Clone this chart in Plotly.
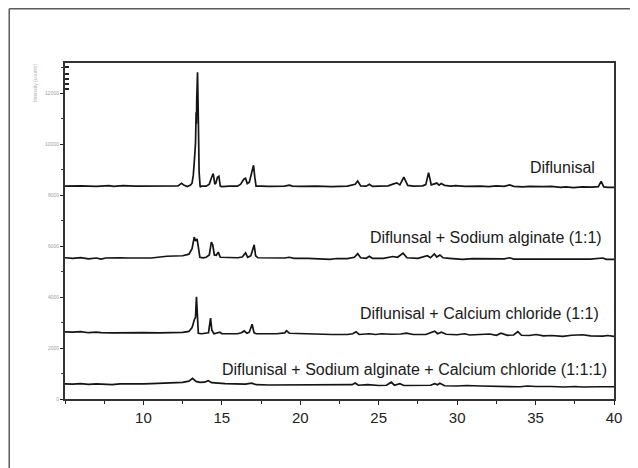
import plotly.graph_objects as go

# ---- data (2-theta in degrees, intensity in counts) ----
two_theta_difl = [5.0, 6.0, 7.0, 7.8, 8.1, 8.7, 9.5, 10.5, 11.5, 12.2, 12.43, 12.6, 12.8, 13.0, 13.1, 13.18,
                  13.25, 13.32, 13.36, 13.38, 13.40, 13.45, 13.50, 13.55, 13.62, 13.7, 14.0, 14.2, 14.35, 14.45,
                  14.55, 14.62, 14.72, 14.81, 14.9, 15.0, 15.5, 16.0, 16.2, 16.4, 16.51, 16.62, 16.75, 16.9,
                  17.02, 17.10, 17.18, 17.5, 18.0, 19.0, 19.3, 19.5, 20.0, 21.0, 21.5, 22.0, 22.5, 23.0, 23.5,
                  23.66, 23.85, 24.2, 24.4, 24.6, 25.0, 25.6, 25.95, 26.15, 26.35, 26.6, 26.85, 27.2, 27.8,
                  28.0, 28.18, 28.35, 28.5, 28.7, 28.85, 28.98, 29.2, 29.6, 29.9, 30.5, 31.5, 32.0, 32.5, 33.0,
                  33.35, 33.6, 34.2, 34.6, 35.5, 36.0, 36.6, 36.95, 37.4, 38.0, 38.6, 39.0, 39.18, 39.35, 39.6, 40.0]
counts_difl = [8350, 8360, 8340, 8370, 8340, 8370, 8350, 8350, 8350, 8360, 8460, 8380, 8330, 8389, 8467, 8780,
               9369, 10035, 11250, 10800, 11800, 12818, 11000, 8900, 8310, 8350, 8350, 8430, 8700, 8840,
               8430, 8470, 8700, 8740, 8350, 8330, 8350, 8350, 8430, 8620, 8660, 8450, 8500, 8900,
               9170, 8700, 8350, 8350, 8340, 8350, 8390, 8350, 8340, 8350, 8330, 8330, 8340, 8350, 8420,
               8550, 8360, 8350, 8420, 8340, 8350, 8360, 8440, 8480, 8400, 8700, 8380, 8350, 8360,
               8410, 8880, 8400, 8430, 8470, 8390, 8450, 8380, 8350, 8370, 8340, 8350, 8330, 8360, 8340,
               8400, 8340, 8320, 8340, 8330, 8340, 8300, 8320, 8290, 8320, 8310, 8330, 8540, 8320, 8300, 8300]

two_theta_na = [5.0, 5.5, 6.0, 6.5, 7.0, 7.3, 7.6, 8.0, 8.5, 9.0, 9.5, 10.0, 10.5, 10.9, 11.5, 12.0, 12.5,
                12.9, 13.1, 13.24, 13.32, 13.42, 13.5, 13.6, 13.8, 14.0, 14.2, 14.33, 14.42, 14.52, 14.65,
                14.77, 14.9, 15.5, 16.0, 16.3, 16.51, 16.65, 16.85, 17.06, 17.15, 17.3, 18.0, 18.5, 19.0,
                19.3, 19.6, 20.5, 21.0, 21.5, 21.9, 22.3, 23.0, 23.45, 23.66, 23.85, 24.2, 24.4, 24.6, 25.3,
                25.9, 26.2, 26.55, 26.8, 27.5, 28.1, 28.3, 28.55, 28.7, 28.9, 29.1, 29.5, 30.35, 31.0, 32.0,
                33.0, 33.35, 33.6, 34.5, 35.5, 36.5, 37.5, 38.5, 39.3, 39.5, 40.0]
counts_na = [5540, 5520, 5545, 5500, 5530, 5490, 5530, 5520, 5535, 5530, 5520, 5530, 5530, 5560, 5600, 5610, 5620,
             5680, 5900, 6350, 6200, 6280, 5900, 5560, 5540, 5560, 5650, 6150, 6040, 5650, 5640,
             5760, 5560, 5540, 5540, 5570, 5730, 5560, 5620, 6050, 5620, 5540, 5530, 5520, 5530,
             5560, 5520, 5520, 5510, 5500, 5480, 5510, 5510, 5560, 5700, 5540, 5520, 5600, 5520, 5520,
             5590, 5560, 5720, 5540, 5520, 5620, 5540, 5690, 5570, 5650, 5540, 5520, 5480, 5510, 5500,
             5500, 5540, 5490, 5490, 5490, 5490, 5490, 5490, 5530, 5480, 5480]

two_theta_ca = [5.0, 5.5, 6.0, 6.5, 7.0, 7.3, 8.0, 8.5, 9.0, 10.0, 11.0, 12.0, 12.5, 12.9, 13.1, 13.25, 13.32,
                13.38, 13.44, 13.5, 13.7, 14.0, 14.15, 14.28, 14.36, 14.5, 14.6, 14.87, 15.0, 15.5, 16.0,
                16.25, 16.42, 16.6, 16.75, 16.93, 17.05, 17.2, 18.0, 18.5, 19.0, 19.12, 19.3, 20.0, 20.5,
                21.0, 21.5, 22.0, 23.0, 23.35, 23.55, 23.75, 24.4, 24.8, 25.2, 25.8, 26.4, 26.76, 27.2, 28.0,
                28.57, 28.75, 29.0, 29.3, 30.0, 30.48, 30.8, 31.5, 32.07, 32.5, 32.8, 33.2, 33.6, 33.87, 34.1,
                34.6, 35.04, 35.5, 36.0, 36.74, 37.3, 38.0, 38.5, 39.3, 39.6, 40.0]
counts_ca = [2630, 2620, 2640, 2600, 2620, 2600, 2590, 2600, 2600, 2600, 2590, 2600, 2610, 2650, 2800, 3120, 3200,
             4010, 3100, 2580, 2560, 2570, 2600, 3170, 2700, 2560, 2570, 2620, 2560, 2560, 2560,
             2600, 2670, 2580, 2620, 2930, 2600, 2560, 2560, 2560, 2590, 2680, 2580, 2560, 2550,
             2560, 2530, 2530, 2530, 2560, 2640, 2530, 2560, 2530, 2560, 2540, 2550, 2580, 2530, 2530,
             2660, 2560, 2620, 2540, 2520, 2560, 2510, 2520, 2550, 2500, 2580, 2500, 2510, 2640, 2500,
             2490, 2530, 2480, 2490, 2460, 2500, 2520, 2480, 2470, 2490, 2460]

two_theta_mix = [5.0, 5.5, 6.0, 6.5, 7.0, 7.5, 8.0, 8.5, 9.0, 9.5, 10.0, 10.5, 11.0, 11.5, 12.0, 12.5, 12.9,
                 13.13, 13.35, 13.6, 13.9, 14.13, 14.35, 14.7, 15.2, 15.8, 16.5, 16.9, 17.2, 18.0, 19.0, 20.0,
                 21.0, 22.0, 23.0, 23.3, 23.5, 23.7, 24.3, 25.0, 25.5, 25.8, 26.0, 26.35, 26.6, 27.5, 28.3,
                 28.57, 28.75, 28.9, 29.2, 30.0, 30.6, 31.5, 32.5, 33.5, 34.0, 34.5, 35.0, 36.0, 36.8, 37.5,
                 38.0, 39.0, 39.5, 40.0]
counts_mix = [590, 580, 600, 570, 590, 580, 560, 590, 580, 590, 590, 600, 610, 620, 630, 650, 700,
              810, 690, 650, 660, 720, 640, 620, 600, 590, 580, 620, 560, 550, 550, 540,
              540, 540, 540, 560, 630, 540, 560, 530, 540, 660, 540, 600, 530, 530, 540,
              600, 560, 620, 520, 510, 530, 510, 500, 500, 480, 510, 490, 490, 470, 490,
              470, 480, 470, 480]

labels = ["Diflunisal",
          "Diflunsal + Sodium alginate (1:1)",
          "Diflunisal + Calcium chloride (1:1)",
          "Diflunisal + Sodium alginate + Calcium chloride (1:1:1)"]
label_x = [38.89, 39.39, 39.20, 39.71]
label_y = [9094, 6350, 3371, 1176]

x_tick_vals = [10, 15, 20, 25, 30, 35, 40]
y_tick_vals = [0, 2000, 4000, 6000, 8000, 10000, 12000]
y_tick_text = ["0", "2000", "4000", "6000", "8000", "10000", "12000"]
y_extra_ticks = [12152, 12348, 12544, 12740, 13014]

FONT = "Liberation Sans, Arial, Helvetica, sans-serif"
LINE_COLOR = "#141414"

fig = go.Figure()
for xs, ys in [(two_theta_difl, counts_difl), (two_theta_na, counts_na),
               (two_theta_ca, counts_ca), (two_theta_mix, counts_mix)]:
    fig.add_trace(go.Scatter(x=xs, y=ys, mode="lines",
                             line=dict(color=LINE_COLOR, width=1.7),
                             showlegend=False, hoverinfo="skip"))

# empty trace so the overlaid axis is drawn
fig.add_trace(go.Scatter(x=[], y=[], yaxis="y2", showlegend=False, hoverinfo="skip"))

for txt, xv, yv in zip(labels, label_x, label_y):
    fig.add_annotation(x=xv, y=yv, text=txt, showarrow=False, xanchor="right", yanchor="middle",
                       font=dict(family=FONT, size=16, color="#1a1a1a"))

fig.add_annotation(x=-0.055, y=0.94, xref="paper", yref="paper", text="Intensity (counts)",
                   textangle=-90, showarrow=False, xanchor="center", yanchor="middle",
                   font=dict(family=FONT, size=5, color="#b0b0b0"))

# outer frame (left and top edges of the picture)
fig.add_shape(type="line", xref="paper", yref="paper", x0=-0.1016, x1=1.1, y0=1.1613, y1=1.1613,
              line=dict(color="#5a5a5a", width=1.5))
fig.add_shape(type="line", xref="paper", yref="paper", x0=-0.1016, x1=-0.1016, y0=1.1613, y1=-0.3,
              line=dict(color="#5a5a5a", width=1.5))

fig.update_layout(
    width=630, height=460,
    margin=dict(l=57, r=24, t=55, b=69),
    paper_bgcolor="white", plot_bgcolor="white",
    font=dict(family=FONT, color="#222"),
    xaxis=dict(range=[5, 40], tickvals=x_tick_vals, ticks="outside", ticklen=4, tickwidth=1.2,
               tickcolor="#222", showline=True, linewidth=2, linecolor="#333", mirror=True,
               showgrid=False, zeroline=False, tickfont=dict(size=15, family=FONT, color="#222"),
               minor=dict(ticks="outside", ticklen=3, tickwidth=1.2, tickcolor="#222", dtick=2.5)),
    yaxis=dict(range=[0, 13180], tickvals=y_tick_vals, ticktext=y_tick_text, ticks="outside",
               ticklen=3, tickwidth=1.2, tickcolor="#222", showline=True, linewidth=2, linecolor="#333",
               mirror=True, showgrid=False, zeroline=False,
               tickfont=dict(size=5, family=FONT, color="#a0a0a0"),
               minor=dict(ticks="outside", ticklen=2, tickwidth=1, tickcolor="#444", dtick=1000)),
    yaxis2=dict(range=[0, 13180], overlaying="y", side="left", tickvals=y_extra_ticks,
                ticks="inside", ticklen=4, tickwidth=1.5, tickcolor="#222", showticklabels=False,
                showline=False, showgrid=False, zeroline=False),
)

fig.write_html("out.html")
